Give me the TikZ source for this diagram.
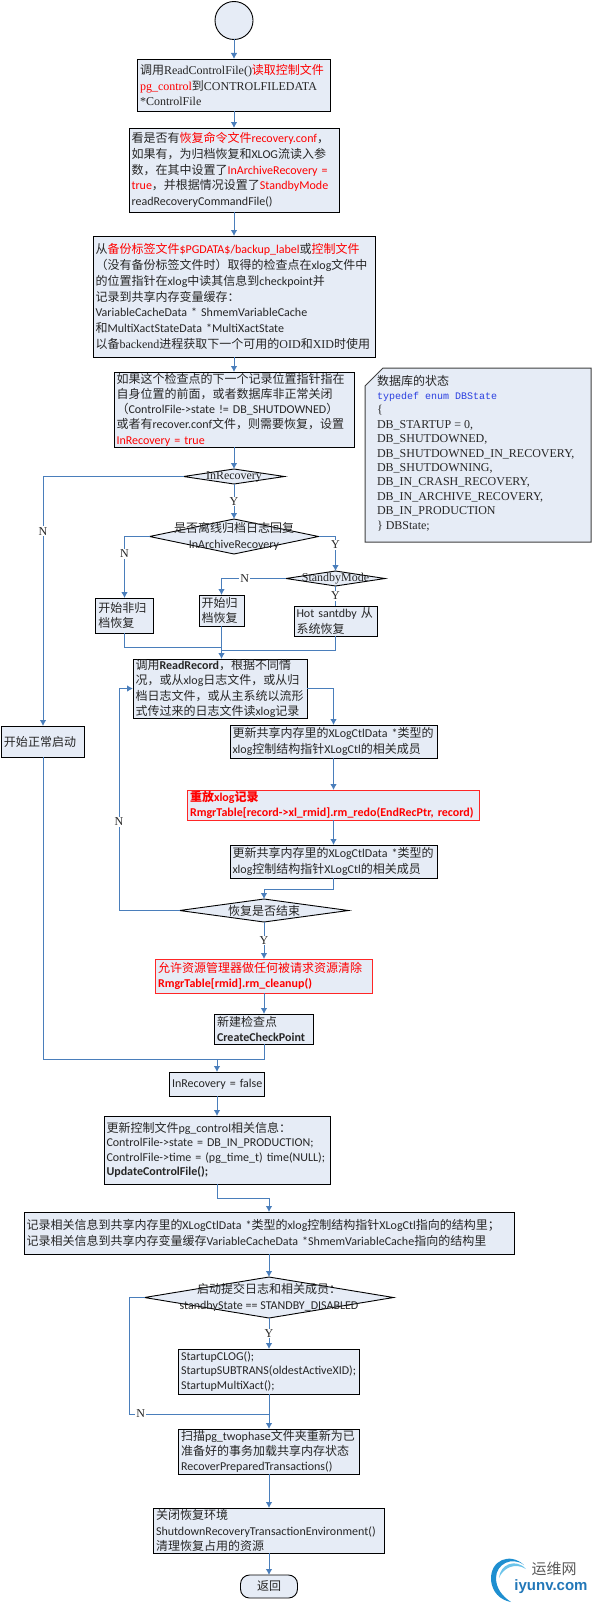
\documentclass[tikz,border=0pt]{standalone}
\usepackage{fontspec}
\setmainfont{Liberation Serif}
\setsansfont{Carlito}
\setmonofont{Liberation Mono}
\newfontfamily\cjk{Noto Sans CJK SC}
\usetikzlibrary{arrows.meta,positioning,shapes.geometric}
\definecolor{boxfill}{HTML}{E6ECF6}
\definecolor{linkblue}{HTML}{4A7EBB}
\definecolor{hotred}{HTML}{FF0000}
\definecolor{typeblue}{HTML}{2A3FE0}
\definecolor{markblue}{HTML}{1E8FD0}
\definecolor{marklight}{HTML}{6CC4EA}
\definecolor{markurlblue}{HTML}{2277B8}
\newcommand{\zh}[1]{{\cjk #1}}
\newcommand{\rd}[1]{\textcolor{hotred}{#1}}

\begin{document}
\begin{tikzpicture}[
  x=1pt,y=-1pt,
  every node/.style={font=\sffamily\fontsize{12}{15.3}\selectfont,text=black!85,outer sep=0pt},
  box/.style={draw=black,line width=0.9pt,fill=boxfill,align=left,inner xsep=2.5pt,inner ysep=0pt,minimum height=#1},
  hotbox/.style={box=#1,draw=red!85,text=hotred,font=\sffamily\bfseries\fontsize{12}{15}\selectfont},
  loose/.style={font=\sffamily\fontsize{12}{15.7}\selectfont},
  tight/.style={font=\sffamily\fontsize{12}{14.5}\selectfont},
  dec/.style={diamond,draw=black,line width=0.9pt,fill=boxfill,inner sep=0pt},
  yn/.style={fill=white,inner sep=1pt,font=\rmfamily\fontsize{12}{14}\selectfont},
  arr/.style={-{Latex[length=6pt,width=6.5pt]},line width=1pt,draw=linkblue},
  lnk/.style={line width=1pt,draw=linkblue}
]
\useasboundingbox (0,0) rectangle (594,1603);
\node[circle,draw=black,line width=0.9pt,fill=boxfill,minimum size=38pt,inner sep=0pt] (start) at (234,20.5) {};
\node[box=52pt,text width=188pt,below=19.5pt of start,font=\rmfamily\fontsize{12}{15.5}\selectfont] (ctrl) {\zh{调用}ReadControlFile()\rd{\zh{读取控制文件}}\\\rd{pg\_control}\zh{到}CONTROLFILEDATA\\{}*ControlFile};
\node[box=84pt,text width=205pt,below=17pt of ctrl,loose] (conf) {\zh{看是否有}\rd{\zh{恢复命令文件}recovery.conf}\zh{，}\\\zh{如果有，为归档恢复和}XLOG\zh{流读入参}\\\zh{数，在其中设置了}\rd{InArchiveRecovery =}\\\rd{true}\zh{，并根据情况设置了}\rd{StandbyMode}\\readRecoveryCommandFile()};
\node[box=121pt,text width=277pt,below=24pt of conf,loose] (label) {\zh{从}\rd{\zh{备份标签文件}\$PGDATA\$/backup\_label}\zh{或}\rd{\zh{控制文件}}\\\zh{（没有备份标签文件时）取得的检查点在}xlog\zh{文件中}\\\zh{的位置指针在}xlog\zh{中读其信息到}checkpoint\zh{并}\\\zh{记录到共享内存变量缓存：}\\VariableCacheData * ShmemVariableCache\\\zh{和}MultiXactStateData *MultiXactState\\\zh{以备}{\rmfamily backend}\zh{进程获取下一个可用的}{\rmfamily OID}\zh{和}{\rmfamily XID}\zh{时使用}};
\node[box=75pt,text width=235pt,below=15pt of label] (redo) {\zh{如果这个检查点的下一个记录位置指针指在}\\\zh{自身位置的前面，或者数据库非正常关闭}\\\zh{（}ControlFile->state != DB\_SHUTDOWNED\zh{）}\\\zh{或者有}recover.conf\zh{文件，则需要恢复，设置}\\\rd{InRecovery = true}};
\node[dec,minimum width=101pt,minimum height=15pt,below=22pt of redo,label={[font=\rmfamily\fontsize{12}{14}\selectfont]center:InRecovery}] (inrec) {};
\node[dec,minimum width=169pt,minimum height=35pt,below=35pt of inrec,label={[align=center]center:\zh{是否离线归档日志回复}\\InArchiveRecovery}] (inarch) {};
\node[dec,minimum width=99pt,minimum height=15pt,below=17pt of inarch,xshift=101.5pt,label={[font=\rmfamily\fontsize{12}{14}\selectfont]center:StandbyMode}] (standby) {};
\node[box=35pt,text width=52.5pt,below=44pt of inarch,xshift=-109.5pt] (nonarch) {\zh{开始非归}\\\zh{档恢复}};
\node[box=31pt,text width=40pt,below=41pt of inarch,xshift=-12.5pt] (arch) {\zh{开始归}\\\zh{档恢复}};
\node[box=30pt,text width=78pt,below=20pt of standby] (hot) {Hot santdby \zh{从}\\\zh{系统恢复}};
\node[box=59pt,text width=169pt,below=33pt of arch,xshift=-1.5pt] (read) {\zh{调用}\textbf{ReadRecord}\zh{，根据不同情}\\\zh{况，或从}xlog\zh{日志文件，或从归}\\\zh{档日志文件，或从主系统以流形}\\\zh{式传过来的日志文件读}xlog\zh{记录}};
\node[box=33pt,text width=202pt,below=7pt of read,xshift=113.5pt] (upda) {\zh{更新共享内存里的}XLogCtlData *\zh{类型的}\\xlog\zh{控制结构指针}XLogCtl\zh{的相关成员}};
\node[hotbox=30pt,text width=287pt,below=32pt of upda] (replay) {\zh{重放}xlog\zh{记录}\\RmgrTable[record->xl\_rmid].rm\_redo(EndRecPtr, record)};
\node[box=33pt,text width=202pt,below=25pt of replay] (updb) {\zh{更新共享内存里的}XLogCtlData *\zh{类型的}\\xlog\zh{控制结构指针}XLogCtl\zh{的相关成员}};
\node[dec,minimum width=169pt,minimum height=23pt,below=21pt of updb,xshift=-69.5pt,label={center:\zh{恢复是否结束}}] (isend) {};
\node[hotbox=34pt,text width=212pt,below=37pt of isend] (cleanup) {\zh{\mdseries 允许资源管理器做任何被请求资源清除}\\RmgrTable[rmid].rm\_cleanup()};
\node[box=30pt,text width=94pt,below=21pt of cleanup] (check) {\zh{新建检查点}\\\textbf{CreateCheckPoint}};
\node[box=24pt,text width=90pt,below=28pt of check,xshift=-47pt] (false) {\mbox{InRecovery = false}};
\node[box=68pt,text width=221pt,below=20pt of false,tight] (update) {\zh{更新控制文件}pg\_control\zh{相关信息：}\\ControlFile->state = DB\_IN\_PRODUCTION;\\ControlFile->time = (pg\_time\_t) time(NULL);\\\textbf{UpdateControlFile();}};
\node[box=42pt,text width=485pt,below=28pt of update,xshift=52pt] (record) {\zh{记录相关信息到共享内存里的}XLogCtlData *\zh{类型的}xlog\zh{控制结构指针}XLogCtl\zh{指向的结构里；}\\\zh{记录相关信息到共享内存变量缓存}VariableCacheData *ShmemVariableCache\zh{指向的结构里}};
\node[dec,minimum width=249pt,minimum height=41pt,below=23pt of record,label={[align=center]center:\zh{启动提交日志和相关成员：}\\standbyState == STANDBY\_DISABLED}] (commit) {};
\node[box=45pt,text width=176pt,below=31pt of commit,tight] (startup) {StartupCLOG();\\StartupSUBTRANS(oldestActiveXID);\\StartupMultiXact();};
\node[box=45pt,text width=176pt,below=35pt of startup] (scan) {\zh{扫描}pg\_twophase\zh{文件夹重新为已}\\\zh{准备好的事务加载共享内存状态}\\RecoverPreparedTransactions()};
\node[box=45pt,text width=226pt,below=34pt of scan] (close) {\zh{关闭恢复环境}\\ShutdownRecoveryTransactionEnvironment()\\\zh{清理恢复占用的资源}};
\node[rounded corners=9pt,draw=black,line width=0.9pt,fill=boxfill,minimum width=57pt,minimum height=23pt,inner sep=0pt,below=22pt of close] (back) {\zh{返回}};
\node[box=31pt,text width=78pt] (normal) at (43,741.5) {\zh{开始正常启动}};
\filldraw[draw=black!75,line width=1pt,fill=boxfill] (365,386) -- (383,368) -- (591,368) -- (591,542) -- (365,542) -- cycle;
\node[align=left,anchor=north west,inner sep=0pt,font=\rmfamily\fontsize{12}{14.4}\selectfont] (state) at (377,375) {\zh{数据库的状态}\\\textcolor{typeblue}{\ttfamily\fontsize{10}{14.4}\selectfont typedef enum DBState}\\\{\\DB\_STARTUP = 0,\\DB\_SHUTDOWNED,\\DB\_SHUTDOWNED\_IN\_RECOVERY,\\DB\_SHUTDOWNING,\\DB\_IN\_CRASH\_RECOVERY,\\DB\_IN\_ARCHIVE\_RECOVERY,\\DB\_IN\_PRODUCTION\\\} DBState;};
\draw[arr] (start) -- (ctrl);
\draw[arr] (ctrl) -- (conf);
\draw[arr] (conf) -- (label);
\draw[arr] (label) -- (redo);
\draw[arr] (redo) -- (inrec);
\draw[arr] (inrec) -- node[yn] {Y} (inarch);
\draw[arr] (inrec.west) -| node[yn,pos=.61] {N} (normal.north);
\draw[arr] (inarch.west) -| node[yn,pos=.64] {N} (nonarch.north);
\draw[arr] (inarch.east) -| node[yn,pos=.62] {Y} (standby.north);
\draw[arr] (standby.west) -| node[yn,pos=.32] {N} (arch.north);
\draw[lnk] (standby.south) -- node[yn] {Y} (hot.north);
\coordinate (joinread) at (arch.south |- read.north);
\draw[arr] (arch.south) -- (joinread);
\draw[lnk] (nonarch.south) |- (arch.south |- 0,647);
\draw[lnk] (hot.south) |- (arch.south |- 0,650);
\draw[arr] (read.east) -| (upda.north);
\draw[arr] (upda) -- (replay);
\draw[arr] (replay) -- (updb);
\draw[arr] (updb.south) -- ++(0,11) -| (isend.north);
\draw[arr] (isend.west) -- ++(-60.5,0) |- node[yn,pos=.2] {N} (read.west);
\draw[arr] (isend) -- node[yn] {Y} (cleanup);
\draw[arr] (cleanup) -- (check);
\coordinate (joinfalse) at (false.north |- 0,1059);
\draw[lnk] (check.south) |- (joinfalse);
\draw[lnk] (normal.south) |- (joinfalse);
\draw[arr] (joinfalse) -- (false.north);
\draw[arr] (false) -- (update);
\draw[arr] (update.south) -- ++(0,14) -| (record.north);
\draw[arr] (record) -- (commit);
\draw[arr] (commit) -- node[yn] {Y} (startup);
\coordinate (joinscan) at (startup.south |- 0,1414);
\draw[lnk] (commit.west) -- ++(-15,0) |- node[yn,pos=.54] {N} (joinscan);
\draw[arr] (startup) -- (scan);
\draw[arr] (scan) -- (close);
\draw[arr] (close) -- (back);
% site mark, lower right
\fill[markblue] (524,1565) .. controls (510,1552) and (490,1560) .. (491,1580) .. controls (492,1592) and (500,1600) .. (511,1602) .. controls (502,1596) and (496,1588) .. (496,1578) .. controls (496,1564) and (512,1556) .. (524,1565);
\fill[marklight] (526,1569) .. controls (516,1558) and (500,1564) .. (499,1578) .. controls (503,1568) and (515,1562) .. (526,1569);
\node[inner sep=0pt,font=\cjk\fontsize{15}{15}\selectfont,text=black!65] (markzh) at (554,1569) {运维网};
\node[inner sep=0pt,font=\fontspec{Liberation Sans}\bfseries\fontsize{15}{15}\selectfont,text=markurlblue] (markurl) at (551,1587) {iyunv.com};
\end{tikzpicture}
\end{document}
